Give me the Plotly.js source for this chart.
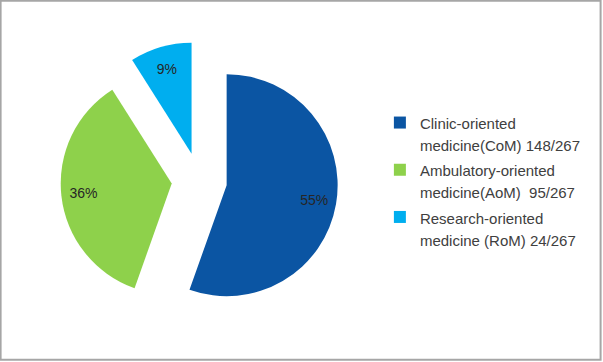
<!DOCTYPE html>
<html>
<head>
<meta charset="utf-8">
<script src="https://cdn.plot.ly/plotly-3.0.1.min.js"></script>
<style>html,body{margin:0;padding:0;background:#fff;}#chart{width:603px;height:362px;}</style>
</head>
<body>
<div id="chart"></div>
<script>
const categoryLine1 = ["Clinic-oriented", "Ambulatory-oriented", "Research-oriented"];
const categoryLine2 = ["medicine(CoM)", "medicine(AoM) ", "medicine (RoM)"];
const counts = [148, 95, 24];
const total = 267;
const colors = ["#0B55A3", "#8ED14B", "#00AEEF"];

const labels = categoryLine1.map((a, i) =>
  '<span style="font-size:15px">' + a + '</span><br><span style="font-size:15px">' +
  categoryLine2[i] + ' ' + counts[i] + '/' + total + '</span>');

const common = {
  type: "pie",
  labels: labels,
  values: counts,
  sort: false,
  direction: "clockwise",
  rotation: 0,
  pull: [0.25, 0.25, 0.25],
  hoverinfo: "none",
  domain: {x: [0.1004, 0.5606], y: [0.1181, 0.8847]}
};

const slices = Object.assign({}, common, {
  marker: {colors: colors, line: {width: 0}},
  textinfo: "none",
  showlegend: true
});

const percentLabels = Object.assign({}, common, {
  hole: 0.6,
  marker: {colors: ["rgba(0,0,0,0)", "rgba(0,0,0,0)", "rgba(0,0,0,0)"], line: {width: 0}},
  texttemplate: "%{percent:.0%}",
  textposition: "inside",
  insidetextorientation: "horizontal",
  textfont: {family: "Liberation Sans, Arial, sans-serif", size: 14, color: "#262626"},
  showlegend: false
});

const layout = {
  width: 603,
  height: 362,
  margin: {l: 0, r: 0, t: 0, b: 0},
  paper_bgcolor: "#ffffff",
  showlegend: true,
  legend: {
    x: 0.63, y: 0.5, xanchor: "left", yanchor: "middle",
    valign: "top",
    font: {family: "Liberation Sans, Arial, sans-serif", size: 17, color: "#404040"},
    bgcolor: "rgba(0,0,0,0)"
  },
  shapes: [{
    type: "rect", xref: "paper", yref: "paper",
    x0: 0.001, x1: 0.996, y0: 0.006, y1: 0.998,
    line: {color: "#A6A6A6", width: 2}, fillcolor: "rgba(0,0,0,0)"
  }]
};

Plotly.newPlot("chart", [slices, percentLabels], layout, {staticPlot: true, displayModeBar: false});
</script>
</body>
</html>
